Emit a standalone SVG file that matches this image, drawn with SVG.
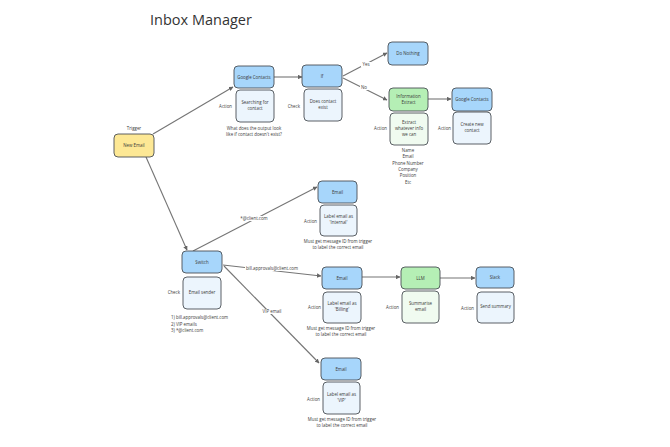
<svg xmlns="http://www.w3.org/2000/svg" width="670" height="447" viewBox="0 0 670 447">
<style>
text{font-family:"Open Sans","Liberation Sans",sans-serif;fill:#3a3a3a}
.t{font-size:4.4px;text-anchor:middle}
.l{font-size:4.4px;text-anchor:end}
.a{font-size:4.4px}
.n{stroke:#4a4f55;stroke-width:0.9}
.blue{fill:#a7d6fb}
.yel{fill:#fde895}
.grn{fill:#b5efb5}
.sb{fill:#ecf5fd}
.sg{fill:#f0fbf0}
.c{stroke:#757575;stroke-width:1.1;fill:none;marker-end:url(#ah)}
.bg{fill:#fff}
</style>
<defs>
<marker id="ah" viewBox="0 0 10 10" refX="9" refY="5" markerWidth="4.5" markerHeight="4.5" orient="auto" markerUnits="userSpaceOnUse"><path d="M0,0L10,5L0,10z" fill="#666"/></marker>
</defs>
<rect width="670" height="447" fill="#fff"/>
<text x="150" y="25" style="font-size:14.5px;fill:#333">Inbox Manager</text>

<g id="connectors">
<path class="c" d="M153,134L233,87"/>
<path class="c" d="M146,157L187,250"/>
<path class="c" d="M274,77L302,77"/>
<path class="c" d="M343,76L387,53"/>
<path class="c" d="M343,78L387,100"/>
<path class="c" d="M428,99L451,99"/>
<path class="c" d="M193,251L317,187"/>
<path class="c" d="M223,265L321,276"/>
<path class="c" d="M224,266L319,363"/>
<path class="c" d="M362,277L400,277"/>
<path class="c" d="M440,278L475,278"/>
<rect class="bg" x="361" y="62" width="10" height="5"/>
<rect class="bg" x="360" y="85" width="8" height="5"/>
<rect class="bg" x="240" y="216" width="28" height="5"/>
<rect class="bg" x="245" y="266" width="54" height="5"/>
<rect class="bg" x="261" y="309" width="22" height="5"/>
<text class="t" x="366" y="66">Yes</text>
<text class="t" x="364" y="89">No</text>
<text class="t" x="254" y="220">*@client.com</text>
<text class="t" x="272" y="270">bill.approvals@client.com</text>
<text class="t" x="272" y="313">VIP email</text>
</g>

<g id="new-email">
<rect class="n yel" x="114" y="134" width="40" height="23" rx="4"/>
<text class="t" x="134" y="147">New Email</text>
<text class="t" x="134" y="130">Trigger</text>
</g>

<g id="google-contacts-1">
<rect class="n blue" x="234" y="66" width="40" height="22" rx="4"/>
<text class="t" x="254" y="78.5">Google Contacts</text>
<rect class="n sb" x="236" y="90" width="38" height="32" rx="4"/>
<text class="t" x="255" y="104">Searching for</text>
<text class="t" x="255" y="110">contact</text>
<text class="l" x="232" y="108">Action</text>
<text class="t" x="254" y="130">What does the output look</text>
<text class="t" x="254" y="136">like if contact doesn't exist?</text>
</g>

<g id="if">
<rect class="n blue" x="302" y="65" width="40" height="22" rx="4"/>
<text class="t" x="322" y="77.5">If</text>
<rect class="n sb" x="304" y="89" width="38" height="32" rx="4"/>
<text class="t" x="323" y="103">Does contact</text>
<text class="t" x="323" y="109">exist</text>
<text class="l" x="300" y="108">Check</text>
</g>

<g id="do-nothing">
<rect class="n blue" x="388" y="42" width="40" height="23" rx="4"/>
<text class="t" x="408" y="55">Do Nothing</text>
</g>

<g id="information-extract">
<rect class="n grn" x="389" y="88" width="39" height="23" rx="4"/>
<text class="t" x="408.5" y="97.5">Information</text>
<text class="t" x="408.5" y="103.5">Extract</text>
<rect class="n sg" x="390" y="113" width="38" height="32" rx="4"/>
<text class="t" x="409" y="124">Extract</text>
<text class="t" x="409" y="130">whatever info</text>
<text class="t" x="409" y="136">we can</text>
<text class="l" x="387" y="130">Action</text>
<text class="t" x="408" y="152">Name</text>
<text class="t" x="408" y="158.3">Email</text>
<text class="t" x="408" y="164.6">Phone Number</text>
<text class="t" x="408" y="170.9">Company</text>
<text class="t" x="408" y="177.2">Position</text>
<text class="t" x="408" y="183.5">Etc</text>
</g>

<g id="google-contacts-2">
<rect class="n blue" x="452" y="88" width="40" height="23" rx="4"/>
<text class="t" x="472" y="100.5">Google Contacts</text>
<rect class="n sb" x="453" y="112" width="38" height="32" rx="4"/>
<text class="t" x="472" y="126">Create new</text>
<text class="t" x="472" y="132">contact</text>
<text class="l" x="451" y="130">Action</text>
</g>

<g id="switch">
<rect class="n blue" x="182" y="251" width="40" height="22" rx="4"/>
<text class="t" x="202" y="263.5">Switch</text>
<rect class="n sb" x="183" y="277" width="38" height="32" rx="4"/>
<text class="t" x="202" y="294">Email sender</text>
<text class="l" x="180" y="294">Check</text>
<text class="a" x="171" y="319">1) bill.approvals@client.com</text>
<text class="a" x="171" y="325.5">2) VIP emails</text>
<text class="a" x="171" y="332">3) *@client.com</text>
</g>

<g id="email-internal">
<rect class="n blue" x="318" y="181" width="39" height="22" rx="4"/>
<text class="t" x="337.5" y="193.5">Email</text>
<rect class="n sb" x="320" y="205" width="37" height="31" rx="4"/>
<text class="t" x="338.5" y="218">Label email as</text>
<text class="t" x="338.5" y="224">'Internal'</text>
<text class="l" x="317" y="223">Action</text>
<text class="t" x="338" y="243">Must get message ID from trigger</text>
<text class="t" x="338" y="249">to label the correct email</text>
</g>

<g id="email-billing">
<rect class="n blue" x="322" y="267" width="40" height="22" rx="4"/>
<text class="t" x="342" y="279.5">Email</text>
<rect class="n sb" x="323" y="292" width="38" height="31" rx="4"/>
<text class="t" x="342" y="305">Label email as</text>
<text class="t" x="342" y="311">'Billing'</text>
<text class="l" x="321" y="309">Action</text>
<text class="t" x="341" y="330">Must get message ID from trigger</text>
<text class="t" x="341" y="336">to label the correct email</text>
</g>

<g id="llm">
<rect class="n grn" x="401" y="267" width="39" height="22" rx="4"/>
<text class="t" x="420.5" y="279.5">LLM</text>
<rect class="n sg" x="402" y="291" width="37" height="32" rx="4"/>
<text class="t" x="420.5" y="305">Summarise</text>
<text class="t" x="420.5" y="311">email</text>
<text class="l" x="399" y="309">Action</text>
</g>

<g id="slack">
<rect class="n blue" x="476" y="267" width="38" height="21" rx="4"/>
<text class="t" x="495" y="279">Slack</text>
<rect class="n sb" x="477" y="292" width="37" height="31" rx="4"/>
<text class="t" x="495.5" y="308">Send summary</text>
<text class="l" x="474" y="310">Action</text>
</g>

<g id="email-vip">
<rect class="n blue" x="321" y="358" width="40" height="22" rx="4"/>
<text class="t" x="341" y="370.5">Email</text>
<rect class="n sb" x="323" y="382" width="37" height="32" rx="4"/>
<text class="t" x="341.5" y="396">Label email as</text>
<text class="t" x="341.5" y="402">'VIP'</text>
<text class="l" x="320" y="401">Action</text>
<text class="t" x="342" y="421">Must get message ID from trigger</text>
<text class="t" x="342" y="427">to label the correct email</text>
</g>
</svg>
